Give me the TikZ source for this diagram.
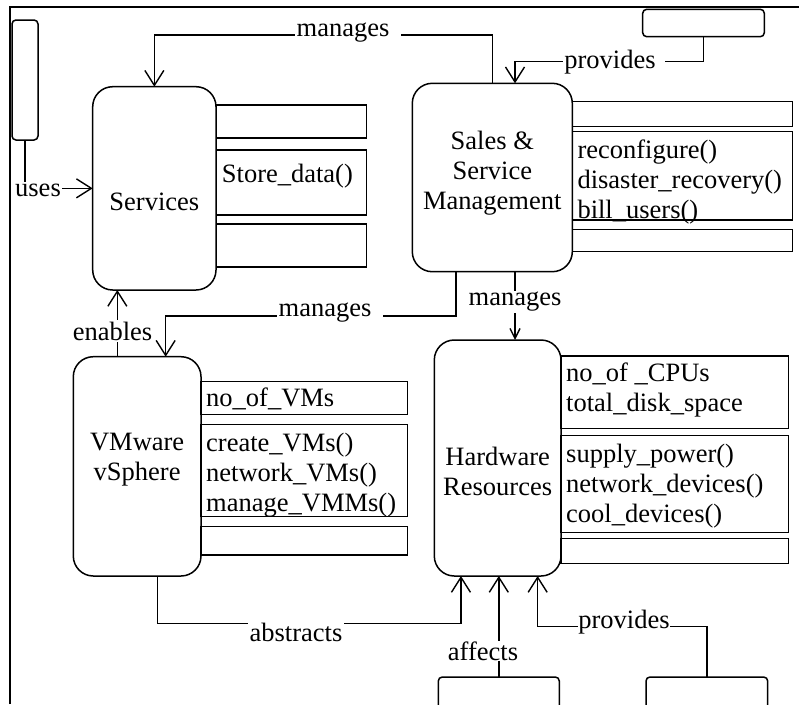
\documentclass[tikz,border=0pt]{standalone}
\usepackage{fontspec}
\setmainfont{Liberation Serif}
\usetikzlibrary{arrows.meta,calc}
\begin{document}
\begin{tikzpicture}[x=1pt,y=-1pt,
  every node/.style={font=\fontsize{26.5}{30}\selectfont},
  bigbox/.style={draw,line width=1.5pt,rounded corners=20pt,inner sep=0pt,outer sep=0pt},
  bigtext/.style={inner sep=0pt,align=center},
  smallbox/.style={draw,line width=1.5pt,rounded corners=4pt,inner sep=0pt,outer sep=0pt},
  attrbox/.style={draw,line width=1.5pt,inner sep=0pt,outer sep=0pt},
  attrtext/.style={anchor=north west,inner sep=0pt,align=left},
  conn/.style={line width=1.4pt,-{Straight Barb[length=15pt,width=19pt,line width=1.4pt]}},
  lbl/.style={fill=white,inner sep=1.5pt}]
\clip (0,0) rectangle (799,704);
\fill[white] (0,0) rectangle (799,704);
\draw[line width=1.3pt] (10,704) -- (10,7) -- (799,7);

% main class boxes
\node[bigbox,minimum width=123.3pt,minimum height=203.3pt] (srv) at (154.35,188.35) {};
\node[bigtext] (srvt) at ($(srv.center)+(0,14)$) {Services};
\node[bigbox,minimum width=160pt,minimum height=188.4pt] (sal) at (492.3,177.5) {};
\node[bigtext] (salt) at ($(sal.center)+(0,-4)$) {Sales \&\\Service\\Management};
\node[bigbox,minimum width=127.7pt,minimum height=219.3pt] (vmw) at (137.15,466.35) {};
\node[bigtext] (vmwt) at ($(vmw.center)+(0,-7)$) {VMware\\vSphere};
\node[bigbox,minimum width=126.7pt,minimum height=236pt] (hw) at (497.65,458) {};
\node[bigtext] (hwt) at ($(hw.center)+(0,13)$) {Hardware\\Resources};

% actor-like boxes
\node[smallbox,minimum width=26pt,minimum height=120pt] (u) at (25,80) {};
\node[smallbox,minimum width=121.6pt,minimum height=27.4pt] (p1) at (703.5,23) {};
\node[smallbox,minimum width=121pt,minimum height=60pt] (b1) at (498.8,707) {};
\node[smallbox,minimum width=121.7pt,minimum height=60pt] (b2) at (706.85,707) {};

% Services attributes
\node[attrbox,minimum width=150pt,minimum height=33pt] (sa1) at (291.7,121.5) {};
\node[attrbox,minimum width=150pt,minimum height=65pt] (sa2) at (291.7,182.5) {};
\node[attrbox,minimum width=150pt,minimum height=43pt] (sa3) at (291.7,245.5) {};
\node[attrtext] (sa2t) at ($(sa2.north west)+(5,14)$) {Store\_data()};

% Sales attributes
\node[attrbox,minimum width=220.4pt,minimum height=25pt] (la1) at (682.5,114.2) {};
\node[attrbox,minimum width=220.4pt,minimum height=88.3pt] (la2) at (682.5,175.85) {};
\node[attrbox,minimum width=220.4pt,minimum height=22.4pt] (la3) at (682.5,240.5) {};
\node[attrtext] (la2t) at ($(la2.north west)+(5,8)$) {reconfigure()\\disaster\_recovery()\\bill\_users()};

% VMware attributes
\node[attrbox,minimum width=206.3pt,minimum height=32.6pt] (va1) at (304.15,398) {};
\node[attrbox,minimum width=206.3pt,minimum height=92.4pt] (va2) at (304.15,470.5) {};
\node[attrbox,minimum width=206.3pt,minimum height=28.3pt] (va3) at (304.15,540.85) {};
\node[attrtext] (va1t) at ($(va1.north west)+(5,6)$) {no\_of\_VMs};
\node[attrtext] (va2t) at ($(va2.north west)+(5,9)$) {create\_VMs()\\network\_VMs()\\manage\_VMMs()};

% Hardware attributes
\node[attrbox,minimum width=227.7pt,minimum height=72.3pt] (ha1) at (674.85,392.15) {};
\node[attrbox,minimum width=227.7pt,minimum height=96.6pt] (ha2) at (674.85,484) {};
\node[attrbox,minimum width=227.7pt,minimum height=25pt] (ha3) at (674.85,550.8) {};
\node[attrtext] (ha1t) at ($(ha1.north west)+(5,7)$) {no\_of \_CPUs\\total\_disk\_space};
\node[attrtext] (ha2t) at ($(ha2.north west)+(5,8)$) {supply\_power()\\network\_devices()\\cool\_devices()};

% connectors
\draw[conn] (u.south) |- (srv.west);
\node[lbl] (l1) at (38,190) {uses};

\draw[conn] (sal.north) -- ++(0,-48.3) -| (srv.north);
\node[lbl] (l2) at (348,33) {manages\hspace*{10pt}};

\draw[conn] (p1.south) -- ++(0,25) -| ($(sal.north)+(22.7,0)$);
\node[lbl] (l3) at (614,62) {provides\hspace*{8pt}};

\draw[conn] ($(sal.south)+(-36.3,0)$) -- ++(0,44.3) -| ($(vmw.north)+(28.5,0)$);
\node[lbl] (l4) at (330,313) {manages\hspace*{10pt}};

\draw[line width=1.4pt,-{Straight Barb[length=10pt,width=10pt,line width=1.4pt]}] ($(sal.south)+(22.7,0)$) coordinate (m5) -- (m5 |- hw.north);
\node[lbl] (l5) at (515,302) {manages};

\draw[conn] ($(vmw.north)+(-19.8,0)$) coordinate (e0) -- (e0 |- srv.south);
\node[lbl] (l6) at (112.5,331) {enables};

\draw[conn] ($(vmw.south)+(20.5,0)$) -- ++(0,47.3) -| ($(hw.south)+(-36.7,0)$);
\node[lbl] (l7) at (296,632) {abstracts};

\draw[conn] (b1.north) -- (b1.north |- hw.south);
\node[lbl,inner sep=0.5pt] (l8) at (483,651) {affects};

\draw[conn] (b2.north) -- ++(0,-50.3) -| ($(hw.south)+(40,0)$);
\node[lbl,inner sep=0.5pt] (l9) at (624,622) {provides};
\end{tikzpicture}
\end{document}
